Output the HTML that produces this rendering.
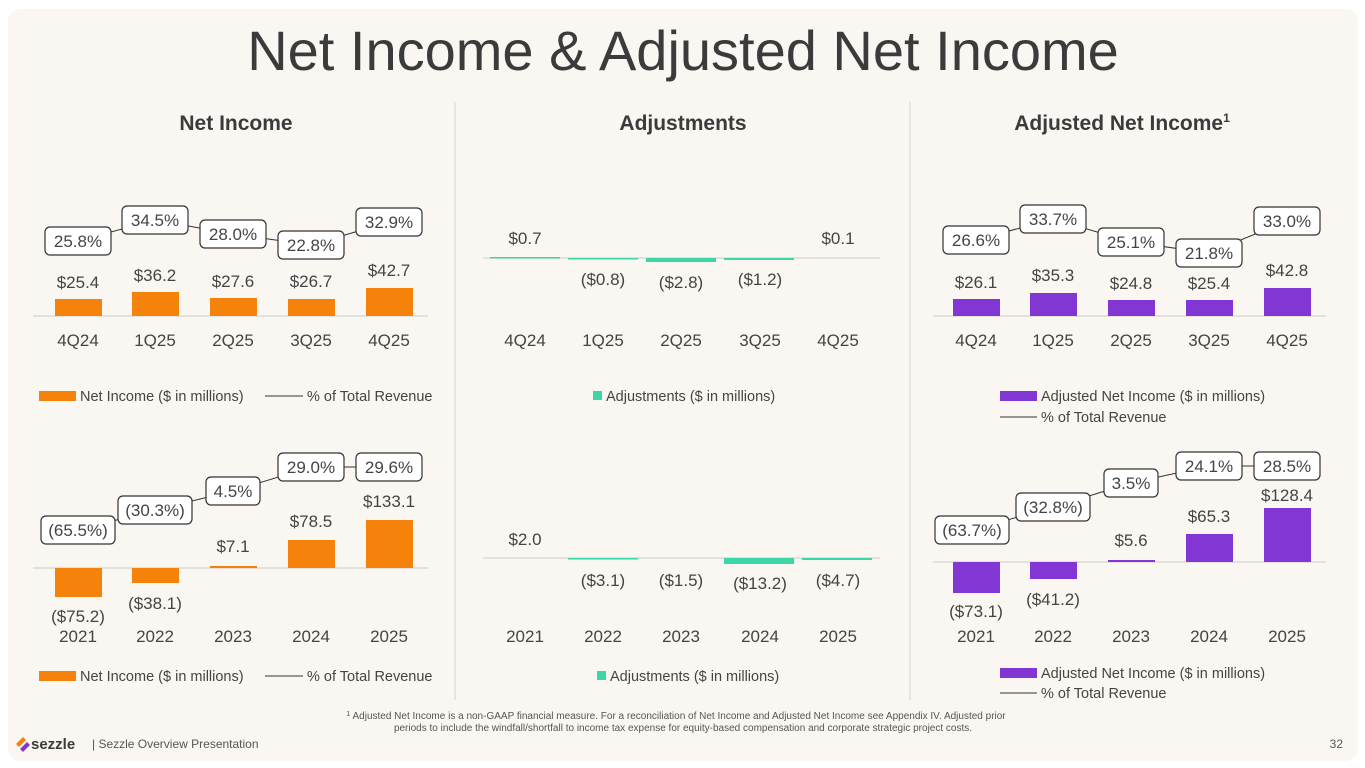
<!DOCTYPE html>
<html><head><meta charset="utf-8"><style>
html,body{margin:0;padding:0;background:#fff;}
svg{display:block;font-family:"Liberation Sans",sans-serif;}
</style></head><body>
<svg width="1365" height="768" viewBox="0 0 1365 768" xmlns="http://www.w3.org/2000/svg">
<rect x="8" y="9" width="1350" height="752" rx="12" fill="#faf7f3"/>
<g fill="#3b3b3b">
<text x="683" y="70" font-size="56" text-anchor="middle">Net Income &amp; Adjusted Net Income</text>
<text x="236" y="130" font-size="21" font-weight="bold" text-anchor="middle">Net Income</text>
<text x="683" y="130" font-size="21" font-weight="bold" text-anchor="middle">Adjustments</text>
<text x="1122" y="130" font-size="21" font-weight="bold" text-anchor="middle">Adjusted Net Income<tspan font-size="12" dy="-8">1</tspan></text>
</g>
<line x1="455" y1="102" x2="455" y2="700" stroke="#e2dfdb" stroke-width="1.5"/>
<line x1="910" y1="102" x2="910" y2="700" stroke="#e2dfdb" stroke-width="1.5"/>

<g stroke="#d6d3cf" stroke-width="1.2">
<line x1="33" y1="316" x2="428" y2="316"/>
<line x1="33" y1="568" x2="428" y2="568"/>
<line x1="483" y1="258" x2="880" y2="258"/>
<line x1="483" y1="558" x2="880" y2="558"/>
<line x1="933" y1="316" x2="1326" y2="316"/>
<line x1="933" y1="562" x2="1326" y2="562"/>
</g>

<g fill="#f5820a">
<rect x="55" y="299" width="47" height="17"/><rect x="132" y="292" width="47" height="24"/><rect x="210" y="298" width="47" height="18"/><rect x="288" y="299" width="47" height="17"/><rect x="366" y="288" width="47" height="28"/>
<rect x="55" y="568" width="47" height="29"/><rect x="132" y="568" width="47" height="15"/><rect x="210" y="566" width="47" height="2"/><rect x="288" y="540" width="47" height="28"/><rect x="366" y="520" width="47" height="48"/>
</g>
<g fill="#8236d4">
<rect x="953" y="299" width="47" height="17"/><rect x="1030" y="293" width="47" height="23"/><rect x="1108" y="300" width="47" height="16"/><rect x="1186" y="300" width="47" height="16"/><rect x="1264" y="288" width="47" height="28"/>
<rect x="953" y="562" width="47" height="31"/><rect x="1030" y="562" width="47" height="17"/><rect x="1108" y="560" width="47" height="2"/><rect x="1186" y="534" width="47" height="28"/><rect x="1264" y="508" width="47" height="54"/>
</g>
<g fill="#3dd6a8">
<rect x="490" y="257" width="70" height="1.5"/><rect x="568" y="258" width="70" height="1.5"/><rect x="646" y="258" width="70" height="4"/><rect x="724" y="258" width="70" height="2"/>
<rect x="568" y="558" width="70" height="1.5"/><rect x="724" y="558" width="70" height="6"/><rect x="802" y="558" width="70" height="2"/>
</g>

<g fill="#444" font-size="17" text-anchor="middle">
<text x="78" y="288">$25.4</text><text x="155" y="281">$36.2</text><text x="233" y="287">$27.6</text><text x="311" y="287">$26.7</text><text x="389" y="276">$42.7</text>
<text x="78" y="622">($75.2)</text><text x="155" y="609">($38.1)</text><text x="233" y="552">$7.1</text><text x="311" y="527">$78.5</text><text x="389" y="507">$133.1</text>
<text x="525" y="244">$0.7</text><text x="603" y="285">($0.8)</text><text x="681" y="288">($2.8)</text><text x="760" y="285">($1.2)</text><text x="838" y="244">$0.1</text>
<text x="525" y="545">$2.0</text><text x="603" y="586">($3.1)</text><text x="681" y="586">($1.5)</text><text x="760" y="589">($13.2)</text><text x="838" y="586">($4.7)</text>
<text x="976" y="288">$26.1</text><text x="1053" y="281">$35.3</text><text x="1131" y="289">$24.8</text><text x="1209" y="289">$25.4</text><text x="1287" y="276">$42.8</text>
<text x="976" y="617">($73.1)</text><text x="1053" y="605">($41.2)</text><text x="1131" y="546">$5.6</text><text x="1209" y="522">$65.3</text><text x="1287" y="501">$128.4</text>
<text x="78" y="346">4Q24</text><text x="155" y="346">1Q25</text><text x="233" y="346">2Q25</text><text x="311" y="346">3Q25</text><text x="389" y="346">4Q25</text>
<text x="525" y="346">4Q24</text><text x="603" y="346">1Q25</text><text x="681" y="346">2Q25</text><text x="760" y="346">3Q25</text><text x="838" y="346">4Q25</text>
<text x="976" y="346">4Q24</text><text x="1053" y="346">1Q25</text><text x="1131" y="346">2Q25</text><text x="1209" y="346">3Q25</text><text x="1287" y="346">4Q25</text>
<text x="78" y="642">2021</text><text x="155" y="642">2022</text><text x="233" y="642">2023</text><text x="311" y="642">2024</text><text x="389" y="642">2025</text>
<text x="525" y="642">2021</text><text x="603" y="642">2022</text><text x="681" y="642">2023</text><text x="760" y="642">2024</text><text x="838" y="642">2025</text>
<text x="976" y="642">2021</text><text x="1053" y="642">2022</text><text x="1131" y="642">2023</text><text x="1209" y="642">2024</text><text x="1287" y="642">2025</text>
</g>

<g stroke="#333" stroke-width="1" fill="none">
<polyline points="78,241 155,220 233,234 311,245 389,222"/>
<polyline points="78,530 155,510 233,491 311,467 389,467"/>
<polyline points="976,240 1053,219 1131,242 1209,253 1287,221"/>
<polyline points="972,530 1053,507 1131,483 1209,466 1287,466"/>
</g>
<g font-size="17" text-anchor="middle">
<g fill="#fff" stroke="#333" stroke-width="1.2">
<rect x="45" y="227" width="66" height="28" rx="5"/><rect x="122" y="206" width="66" height="28" rx="5"/><rect x="200" y="220" width="66" height="28" rx="5"/><rect x="278" y="231" width="66" height="28" rx="5"/><rect x="356" y="208" width="66" height="28" rx="5"/>
<rect x="41" y="516" width="74" height="28" rx="5"/><rect x="118" y="496" width="74" height="28" rx="5"/><rect x="206" y="477" width="54" height="28" rx="5"/><rect x="278" y="453" width="66" height="28" rx="5"/><rect x="356" y="453" width="66" height="28" rx="5"/>
<rect x="943" y="226" width="66" height="28" rx="5"/><rect x="1020" y="205" width="66" height="28" rx="5"/><rect x="1098" y="228" width="66" height="28" rx="5"/><rect x="1176" y="239" width="66" height="28" rx="5"/><rect x="1254" y="207" width="66" height="28" rx="5"/>
<rect x="935" y="516" width="74" height="28" rx="5"/><rect x="1016" y="493" width="74" height="28" rx="5"/><rect x="1104" y="469" width="54" height="28" rx="5"/><rect x="1176" y="452" width="66" height="28" rx="5"/><rect x="1254" y="452" width="66" height="28" rx="5"/>
</g>
<g fill="#444">
<text x="78" y="247">25.8%</text><text x="155" y="226">34.5%</text><text x="233" y="240">28.0%</text><text x="311" y="251">22.8%</text><text x="389" y="228">32.9%</text>
<text x="78" y="536">(65.5%)</text><text x="155" y="516">(30.3%)</text><text x="233" y="497">4.5%</text><text x="311" y="473">29.0%</text><text x="389" y="473">29.6%</text>
<text x="976" y="246">26.6%</text><text x="1053" y="225">33.7%</text><text x="1131" y="248">25.1%</text><text x="1209" y="259">21.8%</text><text x="1287" y="227">33.0%</text>
<text x="972" y="536">(63.7%)</text><text x="1053" y="513">(32.8%)</text><text x="1131" y="489">3.5%</text><text x="1209" y="472">24.1%</text><text x="1287" y="472">28.5%</text>
</g>
</g>

<g font-size="14.5" fill="#444">
<rect x="39" y="391" width="37" height="10" fill="#f5820a"/><text x="80" y="401">Net Income ($ in millions)</text>
<line x1="265" y1="396" x2="303" y2="396" stroke="#333"/><text x="307" y="401">% of Total Revenue</text>
<rect x="39" y="671" width="37" height="10" fill="#f5820a"/><text x="80" y="681">Net Income ($ in millions)</text>
<line x1="265" y1="676" x2="303" y2="676" stroke="#333"/><text x="307" y="681">% of Total Revenue</text>
<rect x="593" y="391" width="9" height="9" fill="#3dd6a8"/><text x="606" y="401">Adjustments ($ in millions)</text>
<rect x="597" y="671" width="9" height="9" fill="#3dd6a8"/><text x="610" y="681">Adjustments ($ in millions)</text>
<rect x="1000" y="391" width="37" height="10" fill="#8236d4"/><text x="1041" y="401">Adjusted Net Income ($ in millions)</text>
<line x1="1000" y1="417" x2="1037" y2="417" stroke="#333"/><text x="1041" y="422">% of Total Revenue</text>
<rect x="1000" y="668" width="37" height="10" fill="#8236d4"/><text x="1041" y="678">Adjusted Net Income ($ in millions)</text>
<line x1="1000" y1="693" x2="1037" y2="693" stroke="#333"/><text x="1041" y="698">% of Total Revenue</text>
</g>

<g font-size="10" fill="#555" text-anchor="middle">
<text x="676" y="719"><tspan font-size="7" dy="-3">1</tspan><tspan dy="3"> Adjusted Net Income is a non-GAAP financial measure. For a reconciliation of Net Income and Adjusted Net Income see Appendix IV. Adjusted prior</tspan></text>
<text x="683" y="731">periods to include the windfall/shortfall to income tax expense for equity-based compensation and corporate strategic project costs.</text>
</g>
<g>
<path d="M16,744 l7,-7 l3,3 l-7,7z" fill="#f5820a"/><path d="M20,749 l7,-7 l3,3 l-7,7z" fill="#8236d4"/>
<text x="31" y="749" font-size="15" font-weight="bold" fill="#3b3b3b">sezzle</text>
<text x="92" y="748" font-size="12" fill="#555">|  Sezzle Overview Presentation</text>
<text x="1343" y="748" font-size="12" fill="#555" text-anchor="end">32</text>
</g>
</svg>
</body></html>
